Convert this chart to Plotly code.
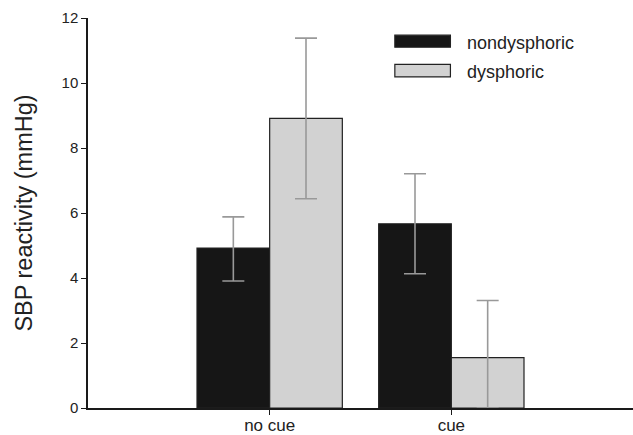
import plotly.graph_objects as go

categories = ["no cue", "cue"]
series_names = ["nondysphoric", "dysphoric"]
nondysphoric = [4.92, 5.67]
dysphoric = [8.91, 1.55]
nondys_err_plus = [0.96, 1.54]
nondys_err_minus = [1.01, 1.54]
dys_err_plus = [2.47, 1.76]
dys_err_minus = [2.47, 1.55]
y_ticks = [0, 2, 4, 6, 8, 10, 12]

FONT = "Liberation Sans, Arial, Helvetica, sans-serif"
colors = ["#161616", "#d2d2d2"]

fig = go.Figure()
for name, vals, ep, em, col in [
    (series_names[0], nondysphoric, nondys_err_plus, nondys_err_minus, colors[0]),
    (series_names[1], dysphoric, dys_err_plus, dys_err_minus, colors[1]),
]:
    fig.add_trace(go.Bar(
        x=categories, y=vals, name=name,
        marker=dict(color=col, line=dict(color="#222222", width=1.2)),
        error_y=dict(type="data", symmetric=False, array=ep, arrayminus=em,
                     color="#999999", thickness=1.6, width=11),
        showlegend=False,
    ))

# custom legend (swatches + labels)
legend_items = [(series_names[0], colors[0], 0.956, 0.925, 0.937),
                (series_names[1], colors[1], 0.881, 0.849, 0.862)]
for name, col, y0, y1, yt in legend_items:
    fig.add_shape(type="rect", xref="paper", yref="paper",
                  x0=0.563, x1=0.665, y0=y1, y1=y0,
                  fillcolor=col, line=dict(color="#222222", width=1.2))
    fig.add_annotation(xref="paper", yref="paper", x=0.692, y=yt,
                       text=name, showarrow=False, xanchor="left", yanchor="middle",
                       font=dict(family=FONT, size=18, color="#222222"))

fig.update_layout(
    width=633, height=435,
    margin=dict(l=88, r=0, t=18, b=27, autoexpand=False),
    paper_bgcolor="white", plot_bgcolor="white",
    barmode="group", bargap=0.2, bargroupgap=0,
    font=dict(family=FONT, color="#222222"),
)
fig.update_xaxes(
    type="category", range=[-1, 2], automargin=False,
    showline=True, linecolor="#1a1a1a", linewidth=1.5,
    ticks="outside", ticklen=5, tickcolor="#1a1a1a", tickwidth=1.2,
    ticklabelstandoff=-4,
    tickfont=dict(family=FONT, size=17, color="#222222"),
    showgrid=False, zeroline=False,
)
fig.update_yaxes(
    range=[0, 12], tickvals=y_ticks, ticktext=[str(t) for t in y_ticks],
    automargin=False,
    showline=True, linecolor="#1a1a1a", linewidth=1.5,
    ticks="outside", ticklen=5, tickcolor="#1a1a1a", tickwidth=1.2,
    tickfont=dict(family=FONT, size=15, color="#222222"),
    showgrid=False, zeroline=False,
    title=dict(text="SBP reactivity (mmHg)", font=dict(family=FONT, size=23.5, color="#222222"), standoff=22),
)

fig.write_html(
    "out.html",
    config={"displayModeBar": False},
    post_script="document.body.style.margin='0';document.body.style.overflow='hidden';",
)
